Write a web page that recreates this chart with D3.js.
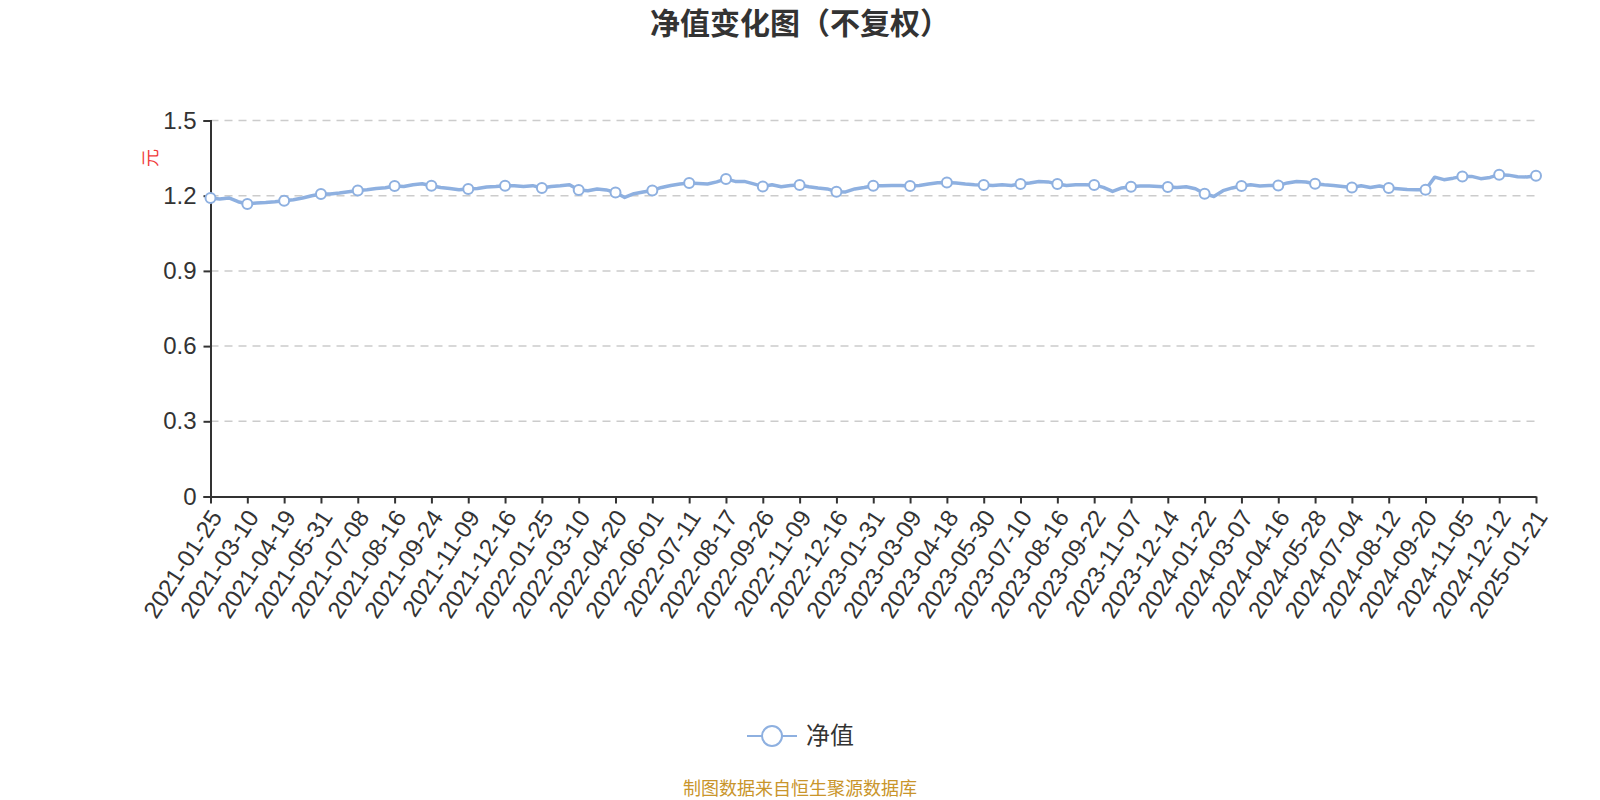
<!DOCTYPE html>
<html>
<head>
<meta charset="utf-8">
<script src="https://cdn.jsdelivr.net/npm/d3@7"></script>
<style>
  html, body { margin: 0; padding: 0; background: #fff; }
  svg { display: block; font-family: "Open Sans", "Noto Sans CJK SC", sans-serif; }
</style>
</head>
<body>
<svg id="nav-chart" width="1600" height="800"></svg>
<script>
// tick labels on the category axis, one every 4 samples
const dateLabels = [
    "2021-01-25", "2021-03-10", "2021-04-19", "2021-05-31", "2021-07-08", "2021-08-16",
    "2021-09-24", "2021-11-09", "2021-12-16", "2022-01-25", "2022-03-10", "2022-04-20",
    "2022-06-01", "2022-07-11", "2022-08-17", "2022-09-26", "2022-11-09", "2022-12-16",
    "2023-01-31", "2023-03-09", "2023-04-18", "2023-05-30", "2023-07-10", "2023-08-16",
    "2023-09-22", "2023-11-07", "2023-12-14", "2024-01-22", "2024-03-07", "2024-04-16",
    "2024-05-28", "2024-07-04", "2024-08-12", "2024-09-20", "2024-11-05", "2024-12-12",
    "2025-01-21"
];

// net value: a labelled date, then 3 readings before the next one
const navValues = [
    1.191, 1.187, 1.191, 1.176,
    1.167, 1.171, 1.173, 1.176,
    1.180, 1.184, 1.191, 1.200,
    1.207, 1.207, 1.211, 1.216,
    1.221, 1.224, 1.229, 1.232,
    1.239, 1.237, 1.244, 1.248,
    1.240, 1.233, 1.229, 1.224,
    1.227, 1.229, 1.235, 1.237,
    1.240, 1.240, 1.237, 1.240,
    1.231, 1.237, 1.240, 1.244,
    1.223, 1.220, 1.227, 1.223,
    1.213, 1.193, 1.208, 1.215,
    1.221, 1.233, 1.241, 1.247,
    1.251, 1.249, 1.247, 1.255,
    1.267, 1.257, 1.257, 1.247,
    1.237, 1.244, 1.236, 1.241,
    1.243, 1.236, 1.231, 1.227,
    1.216, 1.215, 1.227, 1.233,
    1.240, 1.240, 1.241, 1.241,
    1.239, 1.241, 1.247, 1.252,
    1.253, 1.251, 1.247, 1.244,
    1.243, 1.241, 1.244, 1.241,
    1.247, 1.251, 1.257, 1.255,
    1.247, 1.241, 1.244, 1.244,
    1.243, 1.233, 1.217, 1.231,
    1.236, 1.239, 1.239, 1.237,
    1.235, 1.233, 1.236, 1.228,
    1.208, 1.197, 1.220, 1.231,
    1.239, 1.244, 1.239, 1.241,
    1.241, 1.251, 1.257, 1.255,
    1.248, 1.244, 1.241, 1.237,
    1.233, 1.240, 1.233, 1.239,
    1.231, 1.228, 1.225, 1.224,
    1.224, 1.274, 1.264, 1.270,
    1.277, 1.277, 1.268, 1.273,
    1.284, 1.282, 1.276, 1.275,
    1.280
];
const STEP = 4;

const yTicks = [0, 0.3, 0.6, 0.9, 1.2, 1.5];

const LINE_COLOR = "#8eb0e0";
const TEXT_COLOR = "#333";

let svg = d3.select("#nav-chart");
let margin = {left: 210.5, top: 120.5, right: 64, bottom: 303.5};
let width = +svg.attr("width") - margin.left - margin.right;
let height = +svg.attr("height") - margin.top - margin.bottom;

let x = d3.scaleLinear().domain([0, navValues.length - 1]).range([0, width]);
let y = d3.scaleLinear().domain([0, 1.5]).range([height, 0]);

let g = svg.append("g").attr("transform", `translate(${margin.left}, ${margin.top})`);

// dashed grid lines
g.append("g")
    .selectAll("line")
    .data(yTicks.filter((d) => d > 0))
    .enter()
    .append("line")
    .attr("x1", 0)
    .attr("x2", width)
    .attr("y1", (d) => y(d))
    .attr("y2", (d) => y(d))
    .attr("stroke", "#ccc")
    .attr("stroke-width", 1.5)
    .attr("stroke-dasharray", "8,6");

// y axis
let yAxis = g.append("g")
    .call(d3.axisLeft(y).tickValues(yTicks).tickFormat((d) => d3.format("")(+d.toFixed(1))).tickSize(7).tickPadding(7));
yAxis.select(".domain").attr("stroke", TEXT_COLOR).attr("stroke-width", 2);
yAxis.selectAll(".tick line").attr("stroke", TEXT_COLOR).attr("stroke-width", 2);
yAxis.selectAll(".tick text")
    .attr("fill", TEXT_COLOR)
    .style("font-size", "24px");

// x axis, one tick per labelled date
let labelIndex = dateLabels.map((d, i) => i * STEP);
let xAxis = g.append("g")
    .attr("transform", `translate(0, ${height})`)
    .call(d3.axisBottom(x).tickValues(labelIndex).tickFormat((d) => dateLabels[d / STEP]).tickSize(7).tickSizeOuter(0));
xAxis.select(".domain").attr("stroke", TEXT_COLOR).attr("stroke-width", 2);
xAxis.selectAll(".tick line").attr("stroke", TEXT_COLOR).attr("stroke-width", 2);
xAxis.selectAll(".tick text")
    .attr("fill", TEXT_COLOR)
    .style("font-size", "24px")
    .attr("text-anchor", "end")
    .attr("dy", "0.35em")
    .attr("transform", "translate(5, 16) rotate(-57)")
    .attr("x", 0)
    .attr("y", 0);

// the line
let line = d3.line()
    .x((d, i) => x(i))
    .y((d) => y(d));

g.append("path")
    .datum(navValues)
    .attr("fill", "none")
    .attr("stroke", LINE_COLOR)
    .attr("stroke-width", 3.5)
    .attr("stroke-linejoin", "round")
    .attr("d", line);

// markers on labelled dates
g.append("g")
    .selectAll("circle")
    .data(labelIndex)
    .enter()
    .append("circle")
    .attr("cx", (d) => x(d))
    .attr("cy", (d) => y(navValues[d]))
    .attr("r", 5)
    .attr("fill", "#fff")
    .attr("stroke", LINE_COLOR)
    .attr("stroke-width", 2);

// unit label
svg.append("text")
    .attr("transform", `translate(${margin.left - 60}, ${y(1.35) + margin.top}) rotate(-90)`)
    .attr("text-anchor", "middle")
    .attr("dy", "0.35em")
    .attr("fill", "#f03c3c")
    .style("font-size", "18px")
    .text("元");

// title
svg.append("text")
    .attr("x", 800)
    .attr("y", 23)
    .attr("dy", "0.35em")
    .attr("text-anchor", "middle")
    .attr("fill", TEXT_COLOR)
    .style("font-size", "30px")
    .style("font-weight", "bold")
    .text("净值变化图（不复权）");

// legend
let legend = svg.append("g").attr("transform", "translate(747, 736)");
legend.append("line")
    .attr("x1", 0).attr("x2", 50)
    .attr("y1", 0).attr("y2", 0)
    .attr("stroke", LINE_COLOR)
    .attr("stroke-width", 2);
legend.append("circle")
    .attr("cx", 25).attr("cy", 0).attr("r", 10)
    .attr("fill", "#fff")
    .attr("stroke", LINE_COLOR)
    .attr("stroke-width", 2);
legend.append("text")
    .attr("x", 59)
    .attr("dy", "0.35em")
    .attr("fill", TEXT_COLOR)
    .style("font-size", "24px")
    .text("净值");

// source note
svg.append("text")
    .attr("x", 800)
    .attr("y", 789)
    .attr("dy", "0.35em")
    .attr("text-anchor", "middle")
    .attr("fill", "#c9952b")
    .style("font-size", "18px")
    .text("制图数据来自恒生聚源数据库");
</script>
</body>
</html>
